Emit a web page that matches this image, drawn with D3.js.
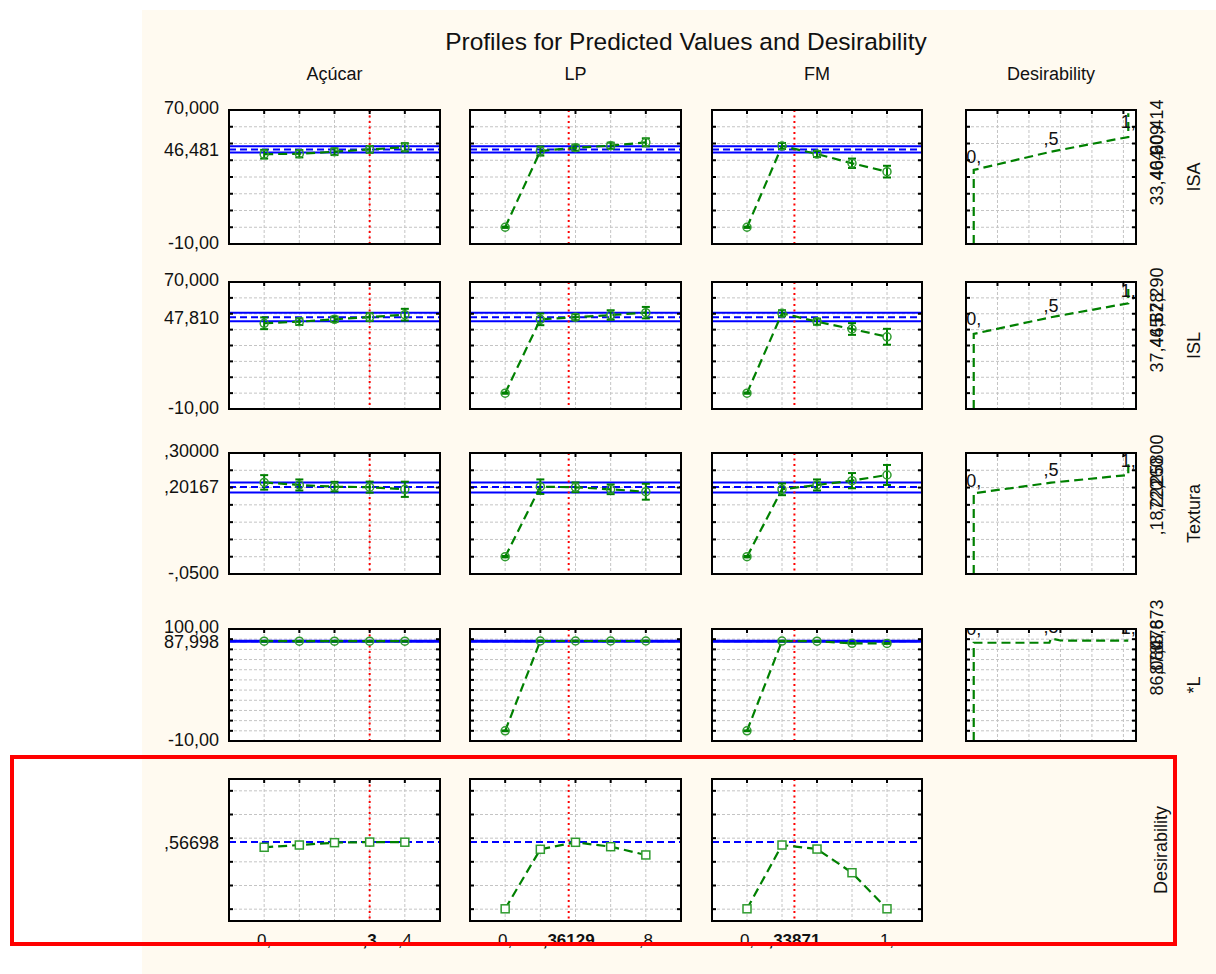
<!DOCTYPE html>
<html>
<head>
<meta charset="utf-8">
<script src="https://cdn.jsdelivr.net/npm/d3@7"></script>
<style>
  body { margin: 0; background: white; }
  text { font-family: Arial, "Liberation Sans", sans-serif; fill: #111; }
</style>
</head>
<body>
<script>
var svgWidth = 1216
var svgHeight = 974

// factors (columns)
var factors = ["Açúcar", "LP", "FM"]
var acucarLevels = [0, 0.1, 0.2, 0.3, 0.4]
var lpLevels = [0, 0.2, 0.4, 0.6, 0.8]
var fmLevels = [0, 0.25, 0.5, 0.75, 1]
var currentLevels = [0.3, 0.36129, 0.33871]
var xTickValues = [[0, 0.3, 0.4], [0, 0.36129, 0.8], [0, 0.33871, 1]]
var xTickLabels = [["0,", ",3", ",4"], ["0,", ",36129", ",8"], ["0,", ",33871", "1,"]]

// responses (rows)
var responses = ["ISA", "ISL", "Textura", "*L", "Desirability"]
var predicted = [46.481, 47.810, 0.20167, 87.998, 0.56698]
var predictedLabels = ["46,481", "47,810", ",20167", "87,998", ",56698"]
var yMaxLabels = ["70,000", "70,000", ",30000", "100,00", ""]
var yMinLabels = ["-10,00", "-10,00", "-,0500", "-10,00", ""]
var isaTicks = [0, 10, 20, 30, 40, 50, 60]
var islTicks = [0, 10, 20, 30, 40, 50, 60]
var texturaTicks = [0, 0.05, 0.1, 0.15, 0.2, 0.25]
var lTicks = [0, 10, 20, 30, 40, 50, 60, 70, 80, 90]
var desTicks = [0, 0.2, 0.4, 0.6, 0.8, 1]

// confidence band of the predicted value
var isaCI = [44.7, 48.4]
var islCI = [45.3, 50.6]
var texturaCI = [0.1855, 0.2150]
var lCI = [87.5, 88.5]

// predicted values at each factor level
var isaAcucar = [43.6, 43.9, 45.1, 46.48, 47.7]
var isaAcucarErr = [2.6, 2.2, 2.0, 2.0, 2.5]
var isaLP = [0, 45.5, 47.5, 48.7, 50.7]
var isaLPErr = [0.4, 2.7, 1.8, 1.8, 2.4]
var isaFM = [0, 48.5, 43.7, 38.2, 33.2]
var isaFMErr = [0.4, 1.8, 1.8, 2.8, 3.5]

var islAcucar = [44.0, 45.0, 46.5, 47.9, 49.4]
var islAcucarErr = [3.7, 2.1, 1.7, 2.5, 3.7]
var islLP = [0, 46.5, 47.8, 49.2, 50.7]
var islLPErr = [0.4, 3.7, 1.9, 3.0, 3.6]
var islFM = [0, 50.3, 45.0, 40.4, 35.5]
var islFMErr = [0.4, 1.9, 1.9, 3.7, 5.0]

var texturaAcucar = [0.215, 0.2075, 0.2026, 0.2012, 0.195]
var texturaAcucarErr = [0.021, 0.016, 0.014, 0.016, 0.022]
var texturaLP = [0, 0.2026, 0.2008, 0.195, 0.188]
var texturaLPErr = [0.002, 0.021, 0.014, 0.014, 0.023]
var texturaFM = [0, 0.195, 0.2075, 0.220, 0.2364]
var texturaFMErr = [0.002, 0.017, 0.016, 0.022, 0.029]

var lAcucar = [88.0, 88.0, 88.0, 88.0, 88.0]
var lAcucarErr = [0.4, 0.4, 0.4, 0.4, 0.4]
var lLP = [0, 88.2, 88.2, 88.2, 88.2]
var lLPErr = [0.4, 0.4, 0.4, 0.4, 0.4]
var lFM = [0, 88.1, 88.0, 85.9, 85.8]
var lFMErr = [0.4, 0.4, 0.4, 0.4, 0.4]

var desAcucar = [0.523, 0.542, 0.562, 0.567, 0.566]
var desLP = [0.003, 0.506, 0.565, 0.528, 0.458]
var desFM = [0.003, 0.542, 0.508, 0.308, 0.003]

// desirability functions (last column): desirability vs response
var desCurveD = [0, 0, 0.5, 1, 1]
var isaDesCurve = [-10, 34.2, 45.1, 53.9, 68]
var islDesCurve = [-10, 37.3, 47.8, 56.6, 68.1]
var texturaDesCurve = [-0.05, 0.1835, 0.2141, 0.2364, 0.268]
var lDesCurveD = [0, 0, 0.49, 0.5, 0.56, 1]
var lDesCurve = [-10, 86.5, 86.5, 90.8, 88.7, 88.5]
var desLevels = [0, 0.5, 1]
var desLevelLabels = ["0,", ",5", "1,"]
var isaDesLabelAt = [38.4, 48.9, 59.1]
var islDesLabelAt = [42.9, 51.1, 60.6]
var texturaDesLabelAt = [0.2017, 0.2335, 0.2595]
var lDesLabelAt = [94.1, 96.4, 95.0]

// low / mid / high settings printed (overlapping) beside each desirability panel
var isaRangeLabels = ["33,404", "46,909", "60,414"]
var isaRangeAt = [29.4, 44.6, 59.9]
var islRangeLabels = ["37,465", "44,878", "52,290"]
var islRangeAt = [30.3, 46.1, 61.8]
var texturaRangeLabels = [",18720", ",22260", ",25800"]
var texturaRangeAt = [0.141, 0.2075, 0.274]
var lRangeLabels = ["86,080", "87,476", "88,873"]
var lRangeAt = [61.7, 82.3, 102]

// assemble per row
var factorLevels = [acucarLevels, lpLevels, fmLevels]
var xDomains = [[-0.1, 0.5], [-0.2, 1.0], [-0.25, 1.25]]
var yDomains = [[-10, 70], [-10, 70], [-0.05, 0.30], [-10, 100], [-0.1, 1.1]]
var yTicks = [isaTicks, islTicks, texturaTicks, lTicks, desTicks]
var bands = [isaCI, islCI, texturaCI, lCI, null]
var rowValues = [
    [isaAcucar, isaLP, isaFM],
    [islAcucar, islLP, islFM],
    [texturaAcucar, texturaLP, texturaFM],
    [lAcucar, lLP, lFM],
    [desAcucar, desLP, desFM]]
var rowErrors = [
    [isaAcucarErr, isaLPErr, isaFMErr],
    [islAcucarErr, islLPErr, islFMErr],
    [texturaAcucarErr, texturaLPErr, texturaFMErr],
    [lAcucarErr, lLPErr, lFMErr],
    null]
var desCurves = [
    {d: desCurveD, v: isaDesCurve, at: isaDesLabelAt, rAt: isaRangeAt, rl: isaRangeLabels},
    {d: desCurveD, v: islDesCurve, at: islDesLabelAt, rAt: islRangeAt, rl: islRangeLabels},
    {d: desCurveD, v: texturaDesCurve, at: texturaDesLabelAt, rAt: texturaRangeAt, rl: texturaRangeLabels},
    {d: lDesCurveD, v: lDesCurve, at: lDesLabelAt, rAt: lRangeAt, rl: lRangeLabels}]

// layout
var colX = [[229, 440], [470, 681], [712, 922], [966, 1136]]
var rowY = [[110, 244], [282, 409], [453, 574], [629, 741], [779, 921]]
var green = "#008000"
var markGreen = "#2f9b2f"
var tickLen = 4
var fontSize = "18px"

var svg = d3.select("body").append("svg")
    .attr("width", svgWidth)
    .attr("height", svgHeight)

svg.append("rect").attr("width", svgWidth).attr("height", svgHeight).attr("fill", "white")
svg.append("rect")
    .attr("x", 142).attr("y", 10)
    .attr("width", svgWidth - 142).attr("height", svgHeight - 10)
    .attr("fill", "#fffaf0")

svg.append("text")
    .attr("x", 686).attr("y", 50)
    .attr("text-anchor", "middle")
    .style("font-size", "24.5px")
    .text("Profiles for Predicted Values and Desirability")

factors.concat(["Desirability"]).forEach(function(f, c) {
    svg.append("text")
        .attr("x", (colX[c][0] + colX[c][1]) / 2).attr("y", 80)
        .attr("text-anchor", "middle")
        .style("font-size", fontSize)
        .text(f)
})

// grid + frame helpers
function panelBase(g, x0, x1, y0, y1, xs, ys) {
    g.append("rect").attr("x", x0).attr("y", y0)
        .attr("width", x1 - x0).attr("height", y1 - y0).attr("fill", "white")
    g.selectAll(".vg").data(xs).enter().append("line")
        .attr("x1", function(d) { return d }).attr("x2", function(d) { return d })
        .attr("y1", y0).attr("y2", y1)
        .attr("stroke", "#c4c4c4").attr("stroke-dasharray", "3,2")
    g.selectAll(".hg").data(ys).enter().append("line")
        .attr("y1", function(d) { return d }).attr("y2", function(d) { return d })
        .attr("x1", x0).attr("x2", x1)
        .attr("stroke", "#c4c4c4").attr("stroke-dasharray", "3,2")
}
function panelFrame(g, x0, x1, y0, y1, xs, ys) {
    g.selectAll(".tt").data(xs).enter().append("line")
        .attr("x1", function(d) { return d }).attr("x2", function(d) { return d })
        .attr("y1", y0).attr("y2", y0 + tickLen)
        .attr("stroke", "black").attr("stroke-width", 2)
    g.selectAll(".tl").data(ys).enter().append("line")
        .attr("y1", function(d) { return d }).attr("y2", function(d) { return d })
        .attr("x1", x0).attr("x2", x0 + tickLen)
        .attr("stroke", "black").attr("stroke-width", 2)
    g.selectAll(".tr").data(ys).enter().append("line")
        .attr("y1", function(d) { return d }).attr("y2", function(d) { return d })
        .attr("x1", x1 - tickLen).attr("x2", x1)
        .attr("stroke", "black").attr("stroke-width", 2)
    g.append("rect").attr("x", x0).attr("y", y0)
        .attr("width", x1 - x0).attr("height", y1 - y0)
        .attr("fill", "none").attr("stroke", "black").attr("stroke-width", 2)
}

responses.forEach(function(resp, r) {
    var y = d3.scaleLinear().domain(yDomains[r]).range([rowY[r][1], rowY[r][0]])
    var y0 = rowY[r][0], y1 = rowY[r][1]
    var ys = yTicks[r].map(y)

    // y labels: max, predicted, min
    var labs = [{v: predicted[r], t: predictedLabels[r], off: 0}]
    if (yMaxLabels[r]) labs.push({v: yDomains[r][1], t: yMaxLabels[r], off: -2})
    if (yMinLabels[r]) labs.push({v: yDomains[r][0], t: yMinLabels[r], off: -1})
    labs.forEach(function(l) {
        svg.append("text")
            .attr("x", 219).attr("y", y(l.v) + l.off)
            .attr("dy", "0.36em")
            .attr("text-anchor", "end")
            .style("font-size", fontSize)
            .text(l.t)
    })

    factors.forEach(function(f, c) {
        var x = d3.scaleLinear().domain(xDomains[c]).range(colX[c])
        var x0 = colX[c][0], x1 = colX[c][1]
        var g = svg.append("g")
        var xs = factorLevels[c].map(x)
        panelBase(g, x0, x1, y0, y1, xs, ys)

        // predicted value and its confidence band
        if (bands[r]) {
            bands[r].forEach(function(b) {
                g.append("line").attr("x1", x0).attr("x2", x1)
                    .attr("y1", y(b)).attr("y2", y(b))
                    .attr("stroke", "#0000ff").attr("stroke-width", 2)
            })
        }
        g.append("line").attr("x1", x0).attr("x2", x1)
            .attr("y1", y(predicted[r])).attr("y2", y(predicted[r]))
            .attr("stroke", "#0000ff").attr("stroke-width", 2)
            .attr("stroke-dasharray", "7,4")

        // current factor level
        g.append("line")
            .attr("x1", x(currentLevels[c])).attr("x2", x(currentLevels[c]))
            .attr("y1", y0).attr("y2", y1)
            .attr("stroke", "#ff0000").attr("stroke-width", 2)
            .attr("stroke-dasharray", "2,3.5")

        var pts = factorLevels[c].map(function(l, i) {
            return {x: l, y: rowValues[r][c][i], e: rowErrors[r] ? rowErrors[r][c][i] : 0}
        })
        var line = d3.line().x(function(d) { return x(d.x) }).y(function(d) { return y(d.y) })
        g.append("path").datum(pts).attr("d", line)
            .attr("fill", "none").attr("stroke", green).attr("stroke-width", 2.2)
            .attr("stroke-dasharray", "9,5")

        if (rowErrors[r]) {
            var eb = g.selectAll(".eb").data(pts).enter().append("g")
            eb.append("line")
                .attr("x1", function(d) { return x(d.x) }).attr("x2", function(d) { return x(d.x) })
                .attr("y1", function(d) { return y(d.y - d.e) }).attr("y2", function(d) { return y(d.y + d.e) })
                .attr("stroke", green).attr("stroke-width", 2)
            eb.append("line")
                .attr("x1", function(d) { return x(d.x) - 4 }).attr("x2", function(d) { return x(d.x) + 4 })
                .attr("y1", function(d) { return y(d.y - d.e) }).attr("y2", function(d) { return y(d.y - d.e) })
                .attr("stroke", green).attr("stroke-width", 2)
            eb.append("line")
                .attr("x1", function(d) { return x(d.x) - 4 }).attr("x2", function(d) { return x(d.x) + 4 })
                .attr("y1", function(d) { return y(d.y + d.e) }).attr("y2", function(d) { return y(d.y + d.e) })
                .attr("stroke", green).attr("stroke-width", 2)
            g.selectAll(".pt").data(pts).enter().append("circle")
                .attr("cx", function(d) { return x(d.x) }).attr("cy", function(d) { return y(d.y) })
                .attr("r", 4).attr("fill", "none")
                .attr("stroke", markGreen).attr("stroke-width", 1.5)
        } else {
            g.selectAll(".pt").data(pts).enter().append("rect")
                .attr("x", function(d) { return x(d.x) - 4 }).attr("y", function(d) { return y(d.y) - 4 })
                .attr("width", 8).attr("height", 8).attr("fill", "white")
                .attr("stroke", markGreen).attr("stroke-width", 1.5)
        }

        panelFrame(g, x0, x1, y0, y1, xs, ys)

        // factor level labels under the last row
        if (r === responses.length - 1) {
            xTickValues[c].forEach(function(v, i) {
                svg.append("text")
                    .attr("x", x(v)).attr("y", 946)
                    .attr("text-anchor", "middle")
                    .style("font-size", "17px")
                    .style("font-weight", v === currentLevels[c] ? "bold" : "normal")
                    .text(xTickLabels[c][i])
            })
        }
    })

    // desirability function column
    if (r < 4) {
        var dc = desCurves[r]
        var x0 = colX[3][0], x1 = colX[3][1]
        var dx = d3.scaleLinear().domain([-0.05, 1.05]).range(colX[3])
        var gx = d3.scaleLinear().domain([0, 5.4]).range(colX[3])
        var xs = [1, 2, 3, 4, 5].map(gx)
        var g = svg.append("g")
        panelBase(g, x0, x1, y0, y1, xs, ys)
        var clipId = "clip" + r
        svg.append("clipPath").attr("id", clipId).append("rect")
            .attr("x", x0).attr("y", y0).attr("width", x1 - x0).attr("height", y1 - y0)
        var cg = g.append("g").attr("clip-path", "url(#" + clipId + ")")
        var cpts = dc.d.map(function(d, i) { return [d, dc.v[i]] })
        cg.append("path").datum(cpts)
            .attr("d", d3.line().x(function(d) { return dx(d[0]) }).y(function(d) { return y(d[1]) }))
            .attr("fill", "none").attr("stroke", green).attr("stroke-width", 2.2)
            .attr("stroke-dasharray", "9,5")
        desLevels.forEach(function(lv, i) {
            cg.append("text")
                .attr("x", dx(lv)).attr("y", y(dc.at[i]))
                .attr("text-anchor", "middle")
                .style("font-size", fontSize)
                .text(desLevelLabels[i])
        })
        panelFrame(g, x0, x1, y0, y1, xs, ys)

        dc.rAt.forEach(function(v, i) {
            svg.append("text")
                .attr("transform", "translate(1163," + y(v) + ") rotate(-90)")
                .attr("text-anchor", "middle")
                .style("font-size", fontSize)
                .text(dc.rl[i])
        })
    }

    svg.append("text")
        .attr("transform", "translate(" + (r < 4 ? 1200 : 1167) + "," + ((y0 + y1) / 2) + ") rotate(-90)")
        .attr("text-anchor", "middle")
        .style("font-size", fontSize)
        .text(resp)
})

// highlight box around the desirability row
svg.append("rect")
    .attr("x", 12).attr("y", 757)
    .attr("width", 1163).attr("height", 187)
    .attr("fill", "none")
    .attr("stroke", "#ff0000")
    .attr("stroke-width", 4)
</script>
</body>
</html>
